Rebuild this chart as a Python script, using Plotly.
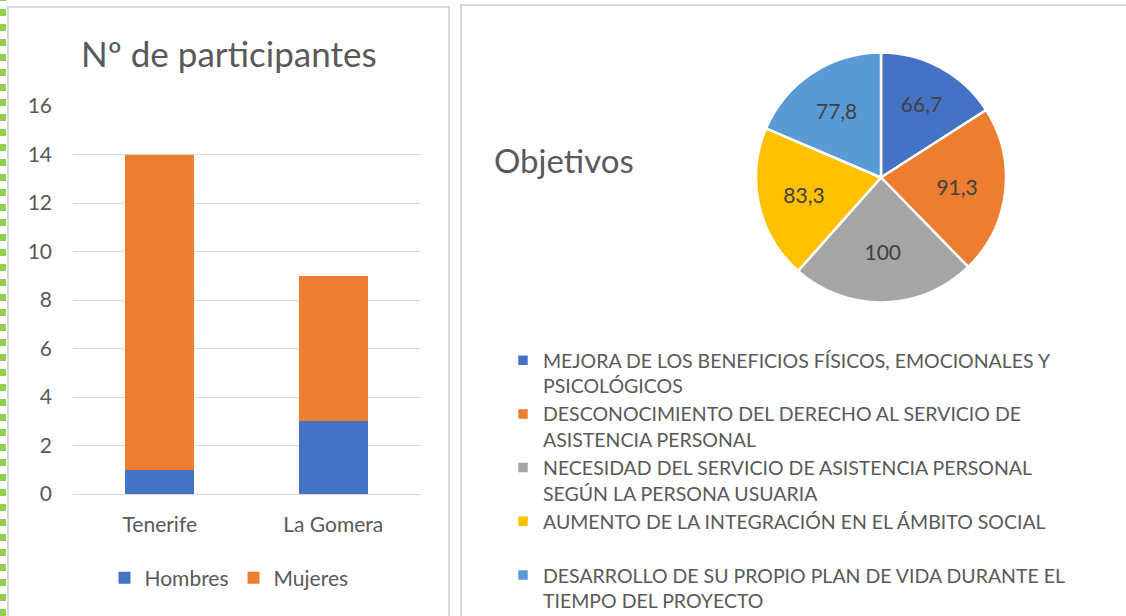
import plotly.graph_objects as go

W, H = 1126, 616

# ---- data ----
islas = ["Tenerife", "La Gomera"]
hombres = [1, 3]
mujeres = [13, 6]

objetivos = [
    "MEJORA DE LOS BENEFICIOS FÍSICOS, EMOCIONALES Y<br>PSICOLÓGICOS",
    "DESCONOCIMIENTO DEL DERECHO AL SERVICIO DE<br>ASISTENCIA PERSONAL",
    "NECESIDAD DEL SERVICIO DE ASISTENCIA PERSONAL<br>SEGÚN LA PERSONA USUARIA",
    "AUMENTO DE LA INTEGRACIÓN EN EL ÁMBITO SOCIAL<br> ",
    "DESARROLLO DE SU PROPIO PLAN DE VIDA DURANTE EL<br>TIEMPO DEL PROYECTO",
]
objetivos_val = [66.7, 91.3, 100, 83.3, 77.8]
pie_colors = ["#4472C4", "#ED7D31", "#A5A5A5", "#FFC000", "#5B9BD5"]

FONT = "Lato"
TXT = "#595959"

def px(x):
    return x / W

def py(y):
    return 1 - y / H

fig = go.Figure()

fig.add_trace(go.Bar(x=islas, y=hombres, name="Hombres", marker_color="#4472C4",
                     marker_line_width=0, legend="legend"))
fig.add_trace(go.Bar(x=islas, y=mujeres, name="Mujeres", marker_color="#ED7D31",
                     marker_line_width=0, legend="legend"))

fig.add_trace(go.Pie(
    labels=objetivos, values=objetivos_val, sort=False, direction="clockwise",
    rotation=0, marker=dict(colors=pie_colors, line=dict(color="white", width=2.5)),
    textinfo="value", texttemplate="%{value}", textposition="inside",
    insidetextorientation="horizontal",
    textfont=dict(family=FONT, size=21, color="#404040"),
    domain=dict(x=[px(756), px(1006)], y=[py(302.5), py(52.5)]),
    legend="legend2", showlegend=True,
))

fig.update_layout(
    width=W, height=H,
    margin=dict(l=0, r=0, t=0, b=0, autoexpand=False),
    paper_bgcolor="white", plot_bgcolor="white",
    separators=",.",
    barmode="stack", bargap=0.6,
    font=dict(family=FONT, color=TXT, size=16),
    xaxis=dict(domain=[px(73), px(420)], showgrid=False, showline=False,
               automargin=False,
               tickfont=dict(size=21, color=TXT), ticks="", ticklabelstandoff=16),
    yaxis=dict(domain=[py(494), py(106)], range=[0, 16], dtick=2,
               automargin=False,
               gridcolor="#D9D9D9", gridwidth=1, zeroline=True,
               zerolinecolor="#D9D9D9", zerolinewidth=1,
               tickfont=dict(size=21, color=TXT), ticklabelstandoff=20),
    legend=dict(orientation="h", x=px(229), xanchor="center", y=py(578),
                yanchor="middle", font=dict(size=21, color=TXT),
                bgcolor="rgba(0,0,0,0)", traceorder="normal"),
    legend2=dict(orientation="v", x=px(503), xanchor="left", y=py(341),
                 yanchor="top", font=dict(size=19.5, color=TXT), valign="top",
                 bgcolor="rgba(0,0,0,0)", tracegroupgap=0),
    showlegend=True,
)

fig.add_annotation(text="Nº de participantes", x=px(229), y=py(53), xref="paper",
                   yref="paper", showarrow=False, font=dict(size=35, color=TXT),
                   xanchor="center", yanchor="middle")
fig.add_annotation(text="Objetivos", x=px(492), y=py(160), xref="paper",
                   yref="paper", showarrow=False, font=dict(size=33, color=TXT),
                   xanchor="left", yanchor="middle")

# panel borders
fig.add_shape(type="rect", xref="paper", yref="paper", x0=px(8), x1=px(449),
              y0=-0.05, y1=py(7), line=dict(color="#D9D9D9", width=2), layer="below")
fig.add_shape(type="rect", xref="paper", yref="paper", x0=px(461), x1=1.05,
              y0=-0.05, y1=py(5), line=dict(color="#D9D9D9", width=2), layer="below")
# green dashed edge
fig.add_shape(type="line", xref="paper", yref="paper", x0=px(3), x1=px(3),
              y0=0, y1=1, line=dict(color="#92D050", width=6, dash="7px,8px"))

fig.write_html("out.html")
